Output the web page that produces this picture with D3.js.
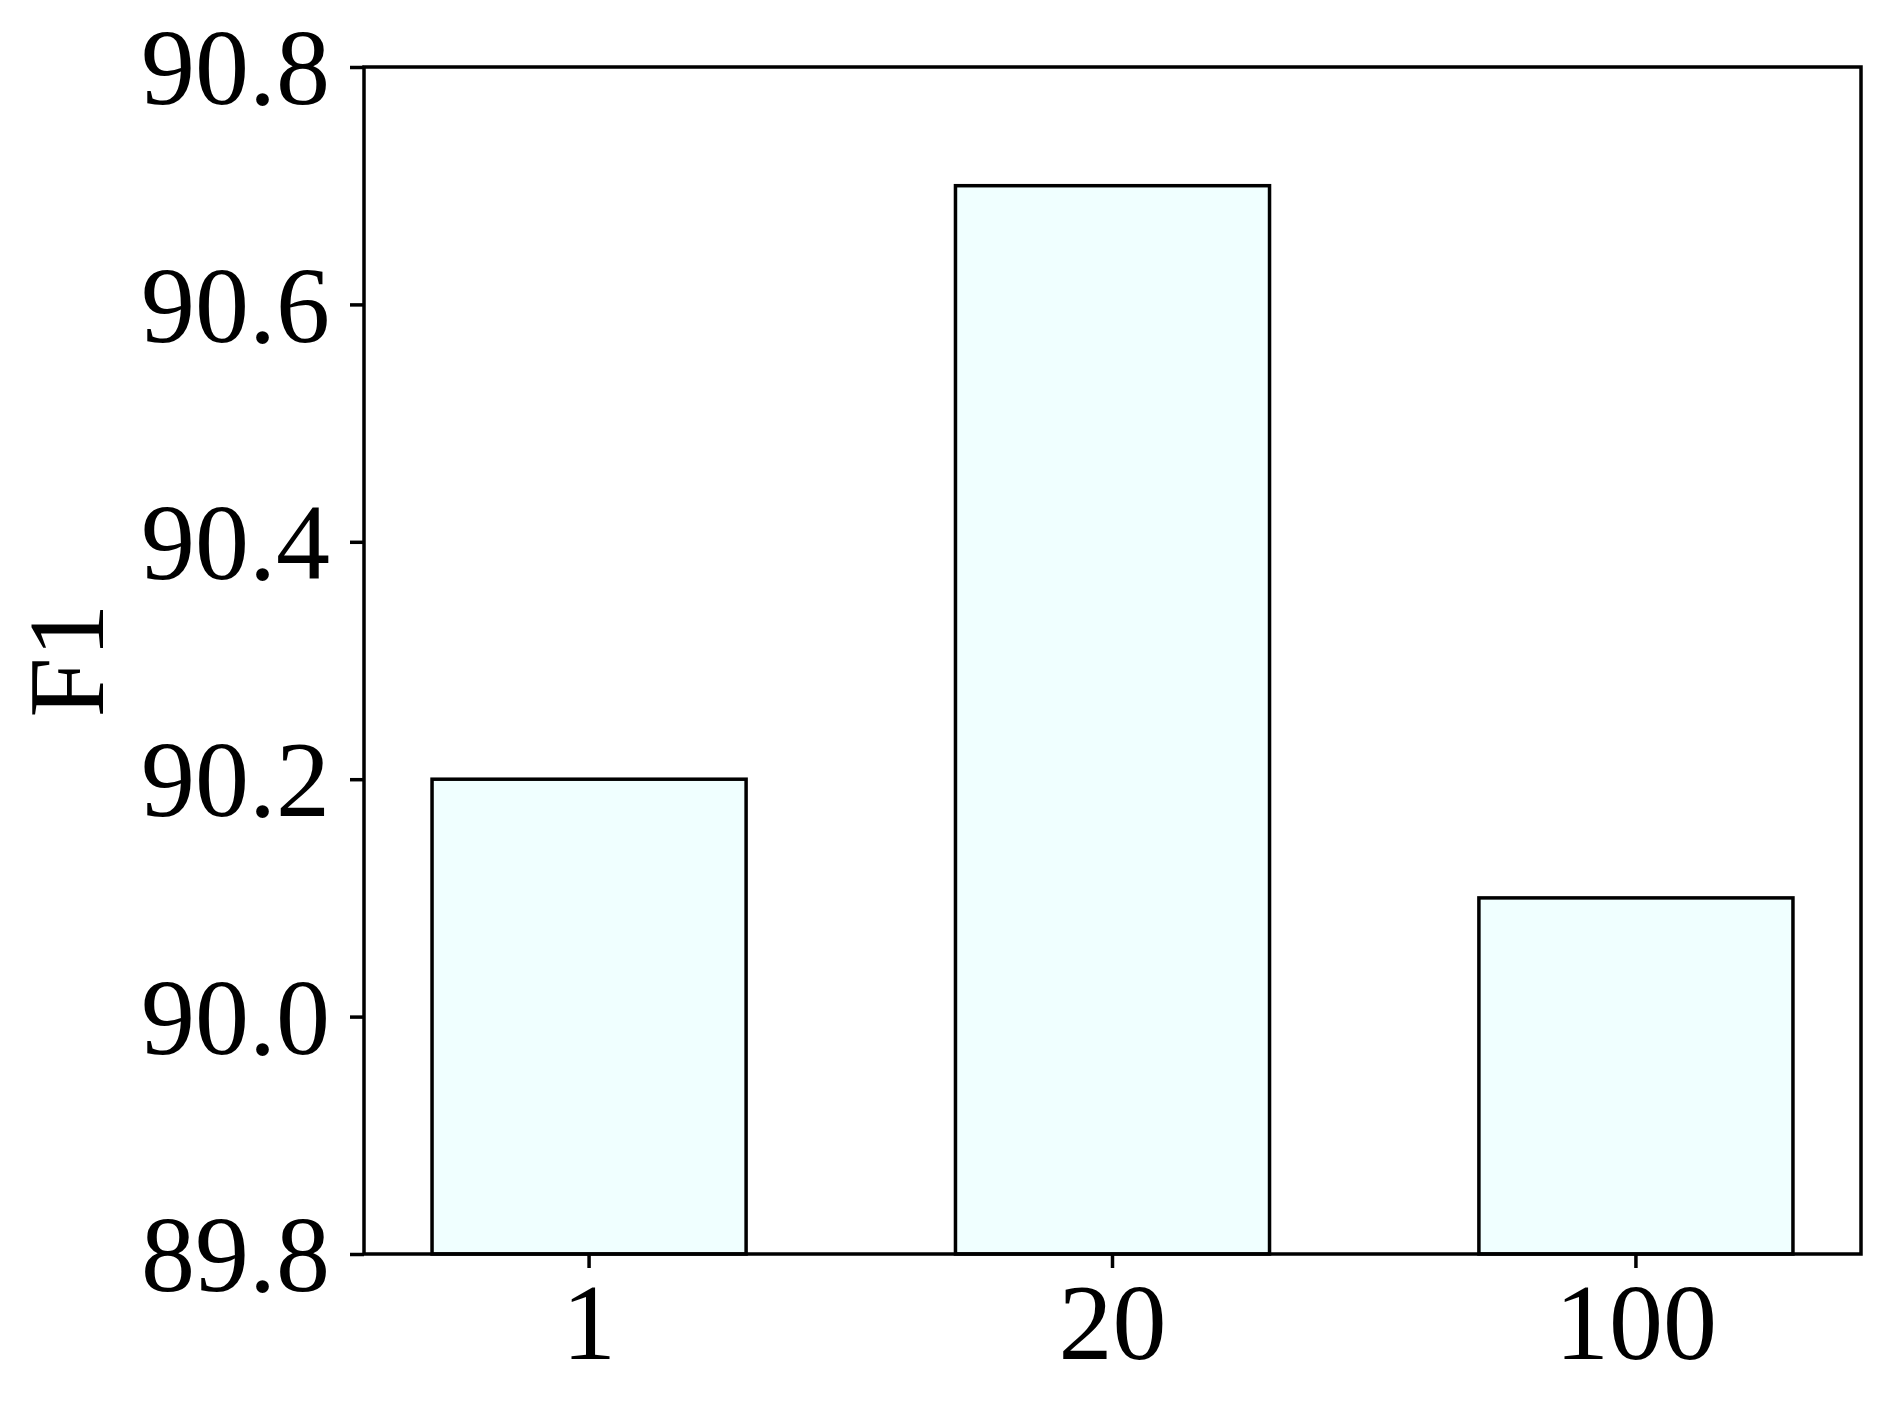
<!DOCTYPE html>
<html>
<head>
<meta charset="utf-8">
<script src="https://cdn.jsdelivr.net/npm/d3@7"></script>
<style>
  body { margin: 0; background: #fff; }
  svg { display: block; }
  text { font-family: "Liberation Serif", "Times New Roman", Times, "Nimbus Roman", serif; }
</style>
</head>
<body>
<div id="chart"></div>
<script>
const categories = ["1", "20", "100"]
const f1Values = [90.2, 90.7, 90.1]
const yTicks = [89.8, 90.0, 90.2, 90.4, 90.6, 90.8]

const width = 1890
const height = 1410
const margin = {left: 364, right: 29, top: 67, bottom: 156}
const fontStack = '"Liberation Serif", "Times New Roman", Times, "Nimbus Roman", serif'

const svg = d3.select("#chart")
  .append("svg")
  .attr("width", width)
  .attr("height", height)

// scale X
const x = d3.scaleBand()
  .domain(categories)
  .range([margin.left, width - margin.right])
  .paddingInner(0.4)
  .paddingOuter(0.13)

// scale Y
const y = d3.scaleLinear()
  .domain([89.8, 90.8])
  .range([height - margin.bottom, margin.top])

// bars
svg.selectAll("rect.bar")
  .data(f1Values)
  .join("rect")
  .attr("class", "bar")
  .attr("x", (d, i) => x(categories[i]))
  .attr("y", d => y(d))
  .attr("width", x.bandwidth())
  .attr("height", d => y(89.8) - y(d))
  .attr("fill", "#F0FFFF")
  .attr("stroke", "#000")
  .attr("stroke-width", 3.5)

// frame
svg.append("rect")
  .attr("x", margin.left)
  .attr("y", margin.top)
  .attr("width", width - margin.right - margin.left)
  .attr("height", height - margin.bottom - margin.top)
  .attr("fill", "none")
  .attr("stroke", "#000")
  .attr("stroke-width", 3.5)

// X axis
const xAxis = svg.append("g")
  .attr("transform", `translate(0,${height - margin.bottom})`)
  .call(d3.axisBottom(x).tickSizeOuter(0).tickSize(14).tickPadding(14))
xAxis.select(".domain").remove()
xAxis.selectAll("line").attr("stroke-width", 3.5)
xAxis.selectAll("text")
  .attr("fill", "#000")
  .attr("font-family", null)
  .style("font-size", "108px")
  .style("font-family", fontStack)

// Y axis
const yAxis = svg.append("g")
  .attr("transform", `translate(${margin.left},0)`)
  .call(d3.axisLeft(y).tickValues(yTicks).tickFormat(d3.format(".1f")).tickSizeOuter(0).tickSize(14).tickPadding(20))
yAxis.select(".domain").remove()
yAxis.selectAll("line").attr("stroke-width", 3.5)
yAxis.selectAll("text")
  .attr("fill", "#000")
  .attr("dy", "0.34em")
  .style("font-size", "108px")
  .style("font-family", fontStack)

// Y axis label
svg.append("text")
  .attr("transform", "rotate(-90)")
  .attr("x", -(margin.top + height - margin.bottom) / 2)
  .attr("y", 103)
  .attr("text-anchor", "middle")
  .style("font-size", "108px")
  .style("font-family", fontStack)
  .text("F1")
</script>
</body>
</html>
